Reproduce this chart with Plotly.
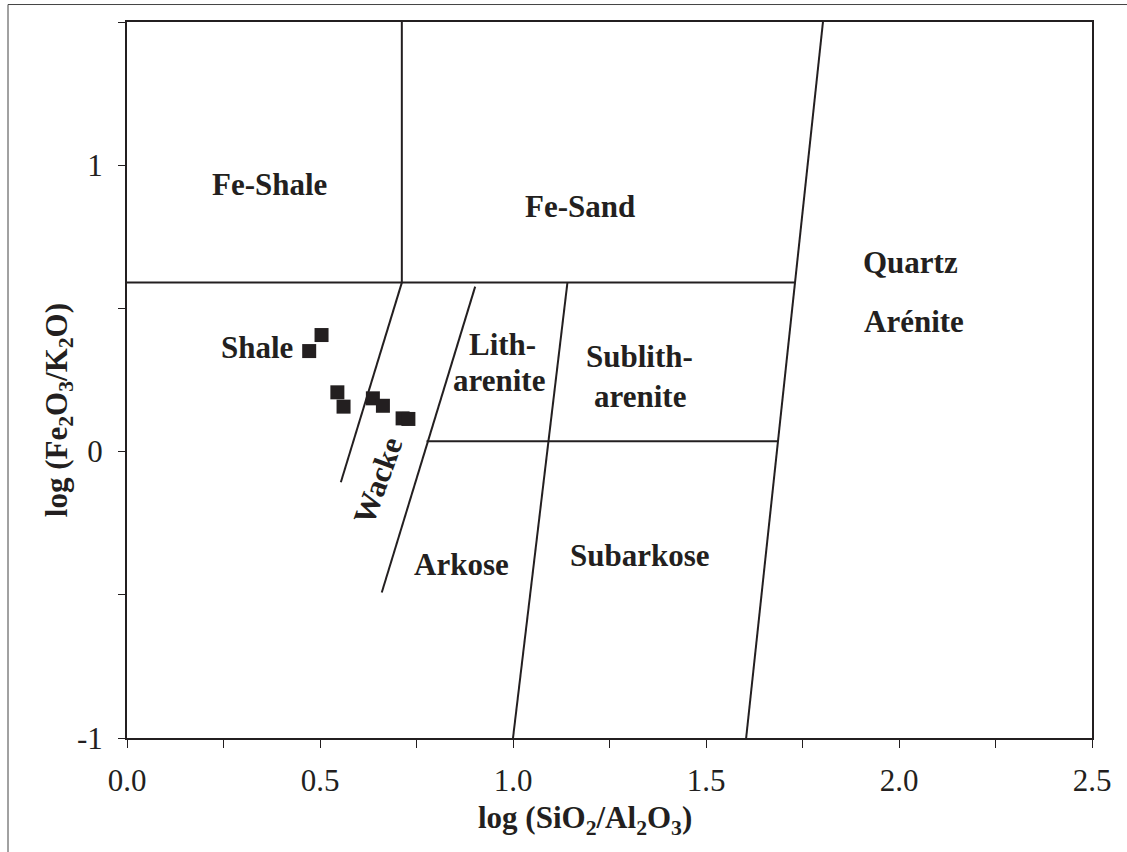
import plotly.graph_objects as go

# ---- data ----
sample_x = [0.504, 0.472, 0.545, 0.561, 0.637, 0.663, 0.714, 0.729]
sample_y = [0.407, 0.351, 0.207, 0.157, 0.186, 0.160, 0.116, 0.114]

# classification boundaries (x0, y0, x1, y1) in data units
boundary_names = ["upper_horizontal", "fe_split", "quartz_arenite", "shale_wacke",
                  "wacke_arkose", "lith_sublith", "lower_horizontal"]
boundary_x0 = [0.0, 0.712, 1.604, 0.712, 0.902, 1.000, 0.776]
boundary_y0 = [0.590, 0.590, -1.0, 0.590, 0.576, -1.0, 0.036]
boundary_x1 = [1.731, 0.712, 1.803, 0.554, 0.660, 1.141, 1.687]
boundary_y1 = [0.590, 1.5, 1.5, -0.107, -0.492, 0.590, 0.036]

field_labels = ["Fe-Shale", "Fe-Sand", "Quartz", "Arénite", "Shale", "Lith-", "arenite",
                "Sublith-", "arenite", "Wacke", "Arkose", "Subarkose"]
label_x = [0.370, 1.174, 2.030, 2.040, 0.337, 0.972, 0.965, 1.329, 1.329, 0.650, 0.867, 1.329]
label_y = [0.934, 0.857, 0.662, 0.453, 0.362, 0.373, 0.247, 0.331, 0.192, -0.101, -0.394, -0.362]
label_angle = [0, 0, 0, 0, 0, 0, 0, 0, 0, -70, 0, 0]

x_tickvals = [0.0, 0.25, 0.5, 0.75, 1.0, 1.25, 1.5, 1.75, 2.0, 2.25, 2.5]
x_ticktext = ["0.0", "", "0.5", "", "1.0", "", "1.5", "", "2.0", "", "2.5"]
y_tickvals = [-1.0, -0.5, 0.0, 0.5, 1.0, 1.5]
y_ticktext = ["-1", "", "0", "", "1", ""]

x_title = "log (SiO<sub>2</sub>/Al<sub>2</sub>O<sub>3</sub>)"
y_title = "log (Fe<sub>2</sub>O<sub>3</sub>/K<sub>2</sub>O)"

INK = "#231f20"
FONT = "Liberation Serif, Times New Roman, DejaVu Serif, serif"

fig = go.Figure()

for name, x0, y0, x1, y1 in zip(boundary_names, boundary_x0, boundary_y0, boundary_x1, boundary_y1):
    fig.add_trace(go.Scatter(x=[x0, x1], y=[y0, y1], mode="lines", name=name,
                             line=dict(color=INK, width=2), hoverinfo="skip", showlegend=False))

fig.add_trace(go.Scatter(x=sample_x, y=sample_y, mode="markers", name="samples",
                         marker=dict(symbol="square", size=14, color=INK, line=dict(width=0)),
                         showlegend=False))

for t, x, y, a in zip(field_labels, label_x, label_y, label_angle):
    fig.add_annotation(x=x, y=y, xref="x", yref="y", text="<b>" + t + "</b>", showarrow=False,
                       textangle=a, font=dict(family=FONT, size=31, color=INK))

# axis titles
fig.add_annotation(x=0.4746, y=-0.1144, xref="paper", yref="paper", text="<b>" + x_title + "</b>",
                   showarrow=False, xanchor="center", yanchor="middle",
                   font=dict(family=FONT, size=31, color=INK))
fig.add_annotation(x=-0.0705, y=0.4578, xref="paper", yref="paper", text="<b>" + y_title + "</b>",
                   showarrow=False, xanchor="center", yanchor="middle", textangle=-90,
                   font=dict(family=FONT, size=31, color=INK))

# outer frame fragments (top and left edges of the figure border)
fig.add_shape(type="line", xref="paper", yref="paper", x0=-0.1233, x1=1.2, y0=1.0244, y1=1.0244,
              line=dict(color="#444444", width=1))
fig.add_shape(type="line", xref="paper", yref="paper", x0=-0.1233, x1=-0.1233, y0=1.0244, y1=-0.2,
              line=dict(color="#444444", width=1))

fig.update_xaxes(range=[0, 2.5], tickvals=x_tickvals, ticktext=x_ticktext,
                 ticks="outside", ticklen=8, tickwidth=1, tickcolor=INK,
                 showline=True, linecolor=INK, linewidth=2, mirror=True,
                 showgrid=False, zeroline=False, ticklabelstandoff=6,
                 tickfont=dict(family=FONT, size=31, color=INK))
fig.update_yaxes(range=[-1, 1.5], tickvals=y_tickvals, ticktext=y_ticktext,
                 ticks="outside", ticklen=7, tickwidth=1, tickcolor=INK,
                 showline=True, linecolor=INK, linewidth=2, mirror=True,
                 showgrid=False, zeroline=False, ticklabelstandoff=9,
                 tickfont=dict(family=FONT, size=31, color=INK))

fig.update_layout(width=1127, height=852, autosize=False,
                  margin=dict(l=127, r=35, t=22, b=114),
                  font=dict(family=FONT),
                  paper_bgcolor="white", plot_bgcolor="white", showlegend=False)

fig.write_html("out.html")
